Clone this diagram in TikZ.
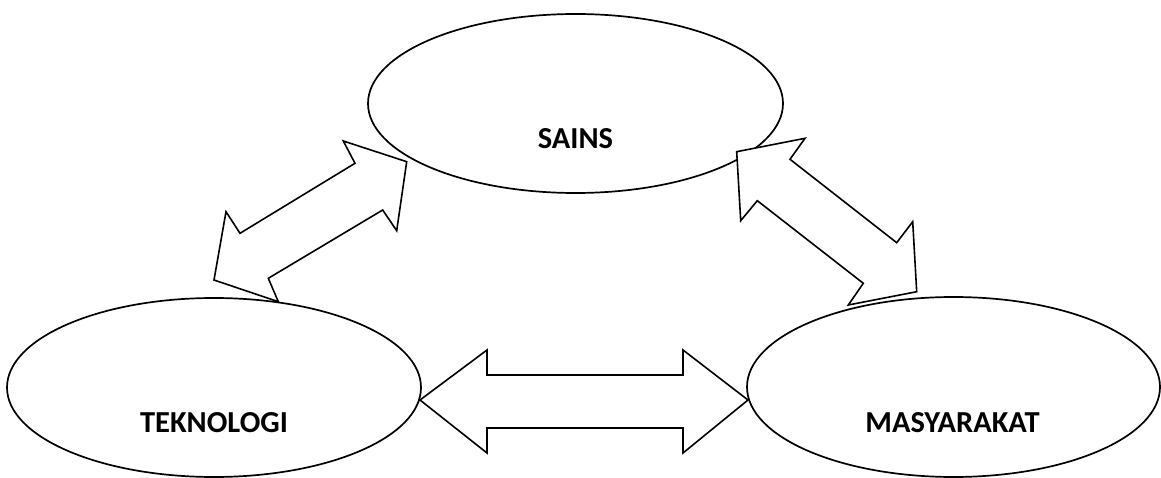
\documentclass[tikz,border=0pt]{standalone}
\usepackage{fontspec}
\setmainfont{Carlito}
\usetikzlibrary{shapes.geometric}
\tikzset{
  oval/.style={draw=black, line width=1.7pt, ellipse, inner sep=0pt},
  lbl/.style={font=\bfseries\fontsize{30.5}{36}\selectfont, inner sep=0pt, anchor=center},
  blockarrow/.style={draw=black, line width=1.6pt, fill=white, line join=miter}
}
\begin{document}
\begin{tikzpicture}[x=1pt,y=-1pt]
\useasboundingbox (0,0) rectangle (1161,478);
\fill[white] (0,0) rectangle (1161,478);
% ellipses
\node[oval, minimum width=415pt, minimum height=179pt] (s) at (575.5,103.5) {};
\node[oval, minimum width=414pt, minimum height=179pt] (t) at (214,387.5) {};
\node[oval, minimum width=413pt, minimum height=180pt] (m) at (953.5,387) {};
% labels
\node[lbl] (sl) at (575.5,139) {SAINS};
\node[lbl] (tl) at (214,423) {TEKNOLOGI};
\node[lbl] (ml) at (952.5,423) {MASYARAKAT};
% block arrow TEKNOLOGI <-> SAINS
\draw[blockarrow] (406.7,161.7) -- (343.3,141) -- (355,163.3) -- (240,233.3)
  -- (226,211.7) -- (214,280) -- (278.3,301.7) -- (268.3,278.3)
  -- (382.7,210) -- (396.7,230.7) -- cycle;
% block arrow SAINS <-> MASYARAKAT
\draw[blockarrow] (736.7,151.7) -- (805,138.3) -- (790,159.3) -- (896.7,242.7)
  -- (912.7,221.7) -- (916.7,291.7) -- (848.3,305) -- (863.3,283.3)
  -- (757.3,200.7) -- (740.7,220.7) -- cycle;
% block arrow TEKNOLOGI <-> MASYARAKAT
\draw[blockarrow] (420,400) -- (487,350) -- (487,375) -- (683,375) -- (683,350)
  -- (748,400) -- (683,453) -- (683,428) -- (487,428) -- (487,453) -- cycle;
\end{tikzpicture}
\end{document}
